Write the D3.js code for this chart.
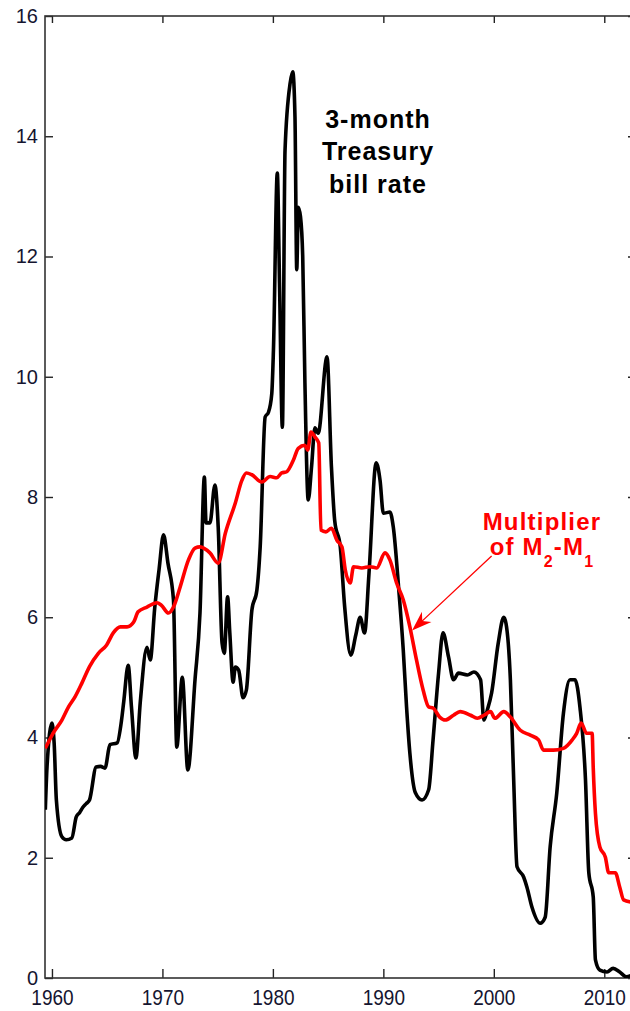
<!DOCTYPE html>
<html>
<head>
<meta charset="utf-8">
<script src="https://cdn.jsdelivr.net/npm/d3@7"></script>
<style>
  html, body { margin: 0; padding: 0; background: #fff; }
  svg { display: block; font-family: "Liberation Sans", Arial, sans-serif; }
</style>
</head>
<body>
<svg id="chart" width="630" height="1011"></svg>
<script>
// ---- data ----
const tbillYears = [1959.4,1959.55,1960.0,1960.2,1960.4,1960.9,1961.3,1961.8,1962.2,1962.5,1962.8,1963.1,1963.4,1964.0,1964.4,1964.8,1965.25,1965.9,1966.3,1966.5,1966.9,1967.2,1967.6,1968.0,1968.6,1968.9,1969.3,1969.7,1970.1,1970.5,1971.0,1971.3,1971.8,1972.3,1972.95,1973.4,1973.8,1973.95,1974.3,1974.75,1975.05,1975.4,1975.6,1975.9,1976.1,1976.4,1976.6,1976.9,1977.3,1977.6,1978.1,1978.55,1978.85,1979.3,1979.6,1979.9,1980.05,1980.4,1980.6,1980.86,1981.1,1981.56,1981.8,1982.0,1982.16,1982.3,1982.5,1982.7,1982.9,1983.2,1983.5,1983.8,1984.1,1984.9,1985.3,1985.6,1986.1,1986.5,1987.05,1987.5,1987.9,1988.3,1988.7,1989.35,1989.7,1990.0,1990.6,1990.9,1991.4,1991.8,1992.1,1992.4,1992.9,1993.5,1994.1,1994.5,1995.0,1995.4,1995.9,1996.35,1996.8,1997.6,1998.2,1998.8,1999.1,1999.4,1999.8,2000.4,2000.9,2001.1,2001.5,2001.8,2002.1,2002.7,2003.0,2003.45,2004.2,2004.65,2005.1,2005.7,2006.3,2006.9,2007.35,2007.8,2008.3,2008.6,2009.0,2009.2,2009.6,2010.25,2010.8,2011.4,2012.0,2012.5];
const tbillRate = [2.8,3.5,4.24,3.9,2.96,2.35,2.3,2.33,2.68,2.75,2.84,2.9,2.96,3.51,3.52,3.49,3.88,3.91,4.29,4.6,5.2,4.5,3.66,4.6,5.5,5.29,6.15,6.8,7.37,6.9,6.29,3.84,5.0,3.46,4.96,6.07,8.33,7.57,7.57,8.2,7.5,5.57,5.4,6.34,5.74,4.92,5.17,5.12,4.66,4.79,6.12,6.45,7.17,9.33,9.41,9.72,10.44,13.39,11.56,9.16,13.77,14.88,15.07,14.32,11.78,12.82,12.66,12.0,9.9,7.95,8.5,9.15,9.06,10.33,8.5,7.6,7.17,6.17,5.37,5.7,6.0,5.74,6.73,8.57,8.28,7.73,7.75,7.5,6.45,5.46,4.51,3.74,3.08,2.96,3.13,3.96,5.07,5.74,5.34,4.96,5.07,5.04,5.09,4.96,4.29,4.45,4.74,5.57,6.0,5.9,4.96,3.29,1.85,1.68,1.51,1.18,0.91,1.01,2.18,3.08,4.4,4.96,4.96,4.5,3.29,1.75,1.35,0.3,0.13,0.1,0.16,0.1,0.02,0.05];

const multYears = [1959.4,1960.1,1960.9,1961.5,1962.1,1962.7,1963.4,1964.2,1964.95,1965.55,1966.2,1966.8,1967.4,1967.8,1968.6,1969.5,1969.9,1970.55,1971.0,1971.6,1972.35,1972.95,1973.4,1974.3,1975.05,1975.7,1976.6,1977.2,1977.6,1978.1,1979.0,1979.75,1980.35,1980.8,1981.25,1981.85,1982.3,1982.9,1983.15,1983.45,1983.8,1984.15,1984.35,1984.8,1985.3,1985.8,1986.25,1986.55,1987.0,1987.3,1988.05,1988.8,1989.4,1990.15,1990.6,1991.2,1991.8,1992.4,1993.0,1993.6,1994.1,1994.5,1995.1,1995.6,1996.35,1996.95,1997.9,1998.5,1999.1,1999.7,2000.1,2000.9,2001.5,2002.4,2003.3,2004.05,2004.5,2005.4,2006.3,2007.1,2007.5,2007.9,2008.4,2008.9,2009.0,2009.2,2009.6,2010.1,2010.4,2011.0,2011.4,2011.75,2012.5];
const multValue = [3.82,4.07,4.29,4.51,4.68,4.9,5.18,5.4,5.54,5.74,5.84,5.84,5.92,6.09,6.17,6.24,6.2,6.07,6.17,6.5,6.95,7.15,7.17,7.07,6.9,7.4,7.9,8.28,8.4,8.37,8.25,8.34,8.32,8.4,8.42,8.61,8.81,8.86,8.78,9.08,9.0,8.9,7.45,7.42,7.48,7.28,7.17,6.79,6.57,6.84,6.82,6.84,6.82,7.07,6.95,6.57,6.29,5.84,5.29,4.79,4.51,4.49,4.34,4.29,4.37,4.43,4.37,4.32,4.37,4.43,4.32,4.43,4.34,4.12,4.04,3.96,3.79,3.79,3.82,3.96,4.07,4.24,4.07,4.07,3.5,2.74,2.18,2.01,1.75,1.75,1.51,1.3,1.26];

const yTicks = [0,2,4,6,8,10,12,14,16];
const xTicks = [1960,1970,1980,1990,2000,2010];

// ---- layout ----
const svg = d3.select("#chart");
const L = 45, R = 633, T = 16, B = 978;
const x = d3.scaleLinear().domain([1959.37, 2012.6]).range([L, R]);
const y = d3.scaleLinear().domain([0, 16]).range([B, T]);

// axes
const axL = svg.append("g").attr("transform", `translate(${L},0)`)
  .call(d3.axisLeft(y).tickValues(yTicks).tickSize(-8).tickSizeOuter(0).tickPadding(7).tickFormat(d3.format("d")));
const axB = svg.append("g").attr("transform", `translate(0,${B})`)
  .call(d3.axisBottom(x).tickValues(xTicks).tickSize(-9).tickSizeOuter(0).tickFormat(d3.format("d")));
const axT = svg.append("g").attr("transform", `translate(0,${T})`)
  .call(d3.axisTop(x).tickValues(xTicks).tickSize(-7).tickSizeOuter(0).tickFormat(""));
const axR = svg.append("g").attr("transform", `translate(${R},0)`)
  .call(d3.axisRight(y).tickValues(yTicks).tickSize(-5).tickSizeOuter(0).tickFormat(""));

[axL, axB, axT, axR].forEach(g => {
  g.select(".domain").remove();
  g.selectAll(".tick line").attr("stroke", "#222").attr("stroke-width", 1.4);
});
axL.selectAll(".tick text").attr("font-size", 20).attr("fill", "#151530")
  .attr("font-family", "Liberation Sans, Arial, sans-serif");
axB.selectAll(".tick text").attr("font-size", 19).attr("fill", "#151530")
  .attr("font-family", "Liberation Sans, Arial, sans-serif")
  .attr("dy", null).attr("y", 22.5).attr("transform", "scale(1,1.2)");

// frame
svg.append("rect").attr("x", L).attr("y", T).attr("width", R - L).attr("height", B - T)
  .attr("fill", "none").attr("stroke", "#333").attr("stroke-width", 1.6);

// lines
const tbill = tbillYears.map((t, i) => [t, tbillRate[i]]);
const mult = multYears.map((t, i) => [t, multValue[i]]);

svg.append("defs").append("clipPath").attr("id", "clip")
  .append("rect").attr("x", L).attr("y", T - 5).attr("width", R - L).attr("height", B - T + 5);

const plot = svg.append("g").attr("clip-path", "url(#clip)");
plot.append("path").datum(tbill)
  .attr("d", d3.line().x(d => x(d[0])).y(d => y(d[1])).curve(d3.curveMonotoneX))
  .attr("fill", "none").attr("stroke", "#000").attr("stroke-width", 3.6).attr("stroke-linejoin", "round");
plot.append("path").datum(mult)
  .attr("d", d3.line().x(d => x(d[0])).y(d => y(d[1])).curve(d3.curveMonotoneX))
  .attr("fill", "none").attr("stroke", "#ff0000").attr("stroke-width", 3.6).attr("stroke-linejoin", "round");

// labels
const lab1 = svg.append("text").attr("x", 378).attr("text-anchor", "middle")
  .attr("font-size", 25).attr("font-weight", "bold").attr("letter-spacing", 1).attr("fill", "#000");
[["3-month", 128], ["Treasury", 160], ["bill rate", 193]].forEach(([t, yy]) =>
  lab1.append("tspan").attr("x", 378).attr("y", yy).text(t));

const lab2 = svg.append("g").attr("fill", "#ff0000").attr("font-weight", "bold");
lab2.append("text").attr("x", 542).attr("y", 530).attr("text-anchor", "middle")
  .attr("font-size", 24).attr("letter-spacing", 1.2).text("Multiplier");
const t2 = lab2.append("text").attr("x", 542).attr("y", 555).attr("text-anchor", "middle")
  .attr("font-size", 24).attr("letter-spacing", 1.2);
t2.append("tspan").text("of M");
t2.append("tspan").attr("font-size", 16).attr("dy", 12).text("2");
t2.append("tspan").attr("dy", -12).text("-M");
t2.append("tspan").attr("font-size", 16).attr("dy", 12).text("1");

// arrow (annotation, in data coords)
const arrowFrom = [1999.8, 7.02], arrowTo = [1992.6, 5.78];
const x0 = x(arrowFrom[0]), y0 = y(arrowFrom[1]), x1 = x(arrowTo[0]), y1 = y(arrowTo[1]);
const ang = Math.atan2(y1 - y0, x1 - x0);
const hl = 20, hw = 7;
const ux = Math.cos(ang), uy = Math.sin(ang);
const bx = x1 - ux * hl, by = y1 - uy * hl;
svg.append("line").attr("x1", x0).attr("y1", y0).attr("x2", x1 - ux * 6).attr("y2", y1 - uy * 6)
  .attr("stroke", "#ff0000").attr("stroke-width", 1.3);
svg.append("path")
  .attr("d", `M${x1},${y1} L${bx - uy * hw},${by + ux * hw} L${x1 - ux * 14},${y1 - uy * 14} L${bx + uy * hw},${by - ux * hw} Z`)
  .attr("fill", "#ff0000");
</script>
</body>
</html>
